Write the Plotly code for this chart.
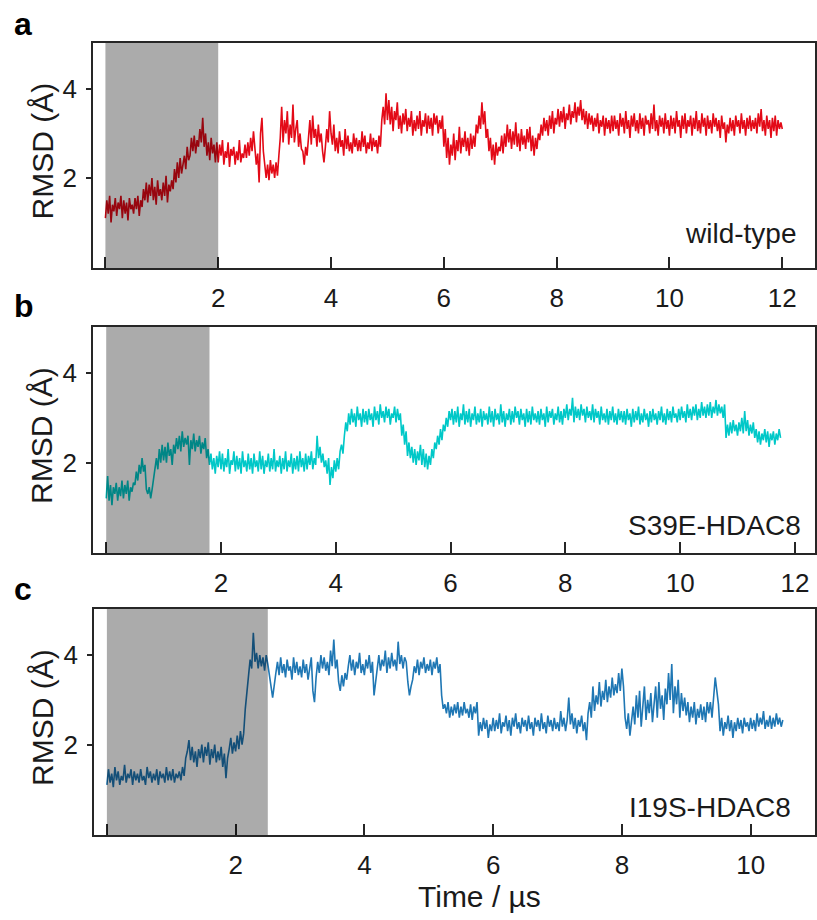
import numpy as np
import plotly.graph_objects as go

# ---------------- data (RMSD in Å, sampled every 0.025 µs) ----------------
dt = 0.025

rmsd_wt = [
    1.1, 1.5, 1.2, 1.6, 1.0, 1.4, 1.25, 1.55, 1.15, 1.45, 1.3, 1.6, 1.1, 1.5, 1.2, 1.45, 1.05, 1.55, 1.3, 1.4,
    1.2, 1.55, 1.3, 1.6, 1.15, 1.5, 1.35, 1.75, 1.5, 1.9, 1.45, 1.85, 1.6, 2.0, 1.5, 1.8, 1.4, 1.95, 1.6, 1.75,
    1.5, 1.9, 1.6, 2.05, 1.45, 1.85, 1.7, 1.95, 1.75, 2.2, 1.9, 2.35, 2.0, 2.45, 2.1, 2.3, 2.5, 2.2, 2.7, 2.4,
    2.5, 2.9, 2.6, 2.95, 2.55, 2.85, 2.7, 3.1, 2.8, 3.35, 2.7, 3.0, 2.5, 2.8, 2.4, 2.9, 2.55, 2.75, 2.35, 2.8,
    2.35, 2.75, 2.5, 2.85, 2.3, 2.6, 2.45, 2.8, 2.25, 2.65, 2.5, 2.7, 2.3, 2.6, 2.4, 2.85, 2.35, 2.55, 2.45, 2.75,
    2.45, 2.8, 2.5, 2.9, 2.6, 3.05, 2.7, 2.3, 2.55, 1.9, 3.0, 3.35, 2.6, 2.2, 2.0, 2.3, 1.95, 2.4, 2.1, 2.3,
    2.0, 2.35, 2.05, 2.5, 2.9, 3.6, 2.8, 3.3, 3.0, 3.5, 2.75, 3.2, 2.9, 3.65, 2.8, 3.1, 3.3, 2.7, 3.0, 2.65,
    2.6, 2.3, 2.7, 2.5, 3.0, 3.3, 2.75, 3.4, 2.9, 3.1, 2.7, 3.2, 2.8, 3.0, 2.6, 2.35, 2.7, 3.1, 2.8, 3.5,
    3.0, 2.75, 3.2, 2.6, 2.9, 2.55, 3.05, 2.7, 2.85, 2.5, 3.1, 2.65, 2.95, 2.6, 2.8, 2.55, 3.0, 2.7, 2.9, 2.6,
    2.85, 2.6, 3.05, 2.7, 2.95, 2.55, 2.8, 2.65, 3.0, 2.6, 2.9, 2.7, 2.85, 2.55, 2.95, 2.7, 3.3, 3.6, 3.2, 3.9,
    3.3, 3.75, 3.2, 3.6, 3.05, 3.5, 3.3, 3.7, 3.1, 3.4, 3.0, 3.45, 3.2, 3.55, 3.05, 3.35, 3.15, 3.5, 2.95, 3.3,
    3.05, 3.4, 3.1, 3.5, 2.95, 3.3, 3.15, 3.45, 3.0, 3.4, 3.1, 3.35, 2.95, 3.45, 3.2, 3.4, 3.0, 3.3, 3.1, 3.4,
    2.7, 3.1, 2.45, 2.9, 2.3, 2.75, 2.5, 3.0, 2.4, 2.85, 2.6, 3.15, 2.55, 2.9, 2.7, 3.05, 2.6, 2.9, 2.5, 3.0,
    2.65, 2.95, 2.7, 3.2, 3.0, 3.4, 3.1, 3.7, 3.2, 3.5, 2.9, 3.1, 2.6, 2.9, 2.4, 2.75, 2.3, 2.8, 2.5, 2.7,
    2.6, 2.95, 2.55, 3.0, 2.7, 3.2, 2.8, 3.1, 2.65, 3.05, 2.75, 3.25, 2.7, 3.0, 2.6, 3.1, 2.75, 2.95, 2.65, 3.1,
    2.8, 3.15, 2.6, 2.95, 2.5, 2.9, 2.65, 3.0, 2.85, 3.2, 2.95, 3.35, 3.05, 3.3, 2.95, 3.4, 3.1, 3.5, 3.0, 3.35,
    3.2, 3.55, 3.15, 3.5, 3.25, 3.6, 3.1, 3.45, 3.3, 3.65, 3.2, 3.5, 3.35, 3.7, 3.25, 3.6, 3.4, 3.75, 3.3, 3.55,
    3.2, 3.5, 3.1, 3.45, 3.2, 3.4, 3.05, 3.35, 3.15, 3.45, 3.0, 3.3, 3.15, 3.4, 2.95, 3.35, 3.1, 3.3, 3.0, 3.4,
    3.05, 3.4, 3.1, 3.3, 2.95, 3.45, 3.15, 3.35, 3.0, 3.5, 3.1, 3.3, 2.9, 3.4, 3.15, 3.45, 3.05, 3.3, 3.0, 3.45,
    3.1, 3.35, 2.95, 3.4, 3.2, 3.3, 3.0, 3.45, 3.1, 3.65, 3.05, 3.3, 2.95, 3.4, 3.15, 3.35, 3.0, 3.45, 3.1, 3.3,
    2.95, 3.4, 3.1, 3.35, 3.0, 3.5, 3.15, 3.3, 2.9, 3.4, 3.1, 3.45, 3.0, 3.3, 3.15, 3.4, 2.95, 3.35, 3.1, 3.5,
    3.05, 3.3, 3.0, 3.45, 3.15, 3.35, 2.95, 3.4, 3.1, 3.3, 3.0, 3.45, 3.15, 3.35, 3.05, 3.3, 2.9, 3.4, 3.1, 3.25,
    2.8, 3.2, 3.0, 3.35, 3.05, 3.3, 2.95, 3.4, 3.15, 3.3, 3.0, 3.45, 3.1, 3.3, 2.95, 3.35, 3.1, 3.4, 3.05, 3.3,
    3.1, 3.35, 3.0, 3.45, 3.15, 3.55, 3.05, 3.3, 2.95, 3.4, 3.1, 3.3, 2.9, 3.35, 3.05, 3.4, 2.95, 3.3, 3.1, 3.25,
    3.1,
]

rmsd_s39e = [
    1.2, 1.7, 1.15, 1.5, 1.05, 1.45, 1.3, 1.55, 1.15, 1.45, 1.25, 1.6, 1.2, 1.5, 1.3, 1.6, 1.15, 1.45, 1.35, 1.55,
    1.5, 1.8, 1.6, 1.95, 1.75, 2.1, 1.8, 1.95, 1.4, 1.3, 1.45, 1.2, 1.4, 1.6, 1.9, 2.1, 1.85, 2.3, 2.0, 2.4,
    2.05, 2.35, 2.0, 2.45, 2.15, 2.3, 1.95, 2.4, 2.2, 2.55, 2.3, 2.6, 2.25, 2.7, 2.35, 2.55, 2.4, 2.6, 1.95, 2.5,
    2.3, 2.65, 2.25, 2.5, 2.35, 2.6, 2.2, 2.45, 2.3, 2.55, 2.1, 2.3, 1.95, 2.2, 1.85, 2.1, 1.75, 2.15, 1.9, 2.25,
    1.85, 2.2, 1.8, 2.1, 1.9, 2.3, 1.75, 2.05, 1.95, 2.25, 1.8, 2.15, 1.85, 2.1, 1.75, 2.25, 1.9, 2.05, 1.8, 2.2,
    1.85, 2.1, 1.75, 2.2, 1.9, 2.05, 1.8, 2.25, 1.85, 2.15, 1.75, 2.05, 1.9, 2.2, 1.8, 2.1, 1.85, 2.3, 1.8, 2.05,
    1.9, 2.15, 1.75, 2.1, 1.85, 2.25, 1.8, 2.05, 1.9, 2.2, 1.75, 2.1, 1.85, 2.15, 1.8, 2.25, 1.9, 2.1, 1.8, 2.2,
    1.85, 2.15, 1.95, 2.25, 1.85, 2.1, 1.95, 2.6, 2.1, 2.35, 2.0, 2.2, 1.9, 2.05, 1.75, 2.1, 1.5, 1.9, 1.65, 2.05,
    1.8, 2.1, 1.85, 2.25, 2.4, 2.2, 2.6, 2.9, 2.7, 3.1, 2.85, 3.2, 2.9, 3.1, 2.8, 3.25, 2.95, 3.1, 2.8, 3.2,
    2.9, 3.15, 2.85, 3.2, 2.95, 3.1, 2.8, 3.25, 2.95, 3.15, 2.85, 3.3, 3.0, 3.15, 2.9, 3.25, 3.0, 3.2, 2.85, 3.1,
    3.0, 3.25, 2.9, 3.2, 2.95, 3.1, 2.6, 2.85, 2.4, 2.7, 2.15, 2.45, 2.1, 2.35, 2.0, 2.3, 1.95, 2.25, 2.05, 2.4,
    1.95, 2.3, 1.9, 2.2, 1.85, 2.15, 1.95, 2.3, 2.1, 2.45, 2.3, 2.6, 2.4, 2.75, 2.5, 2.85, 2.7, 3.0, 2.8, 3.15,
    2.95, 3.2, 2.85, 3.15, 2.9, 3.25, 2.8, 3.1, 2.95, 3.3, 2.85, 3.15, 2.9, 3.2, 2.8, 3.1, 2.95, 3.25, 2.85, 3.1,
    2.9, 3.2, 2.8, 3.15, 2.95, 3.1, 2.85, 3.25, 2.9, 3.15, 2.8, 3.2, 2.95, 3.1, 2.85, 3.3, 2.9, 3.15, 2.8, 3.1,
    2.95, 3.2, 2.85, 3.15, 2.9, 3.25, 3.0, 3.15, 2.85, 3.2, 2.95, 3.1, 2.8, 3.2, 2.9, 3.15, 2.85, 3.25, 2.95, 3.1,
    2.9, 3.15, 2.85, 3.2, 2.95, 3.1, 2.8, 3.25, 2.9, 3.15, 3.0, 3.2, 2.85, 3.1, 2.95, 3.25, 2.9, 3.15, 2.85, 3.2,
    3.0, 3.3, 2.95, 3.2, 3.05, 3.45, 2.9, 3.25, 3.0, 3.2, 2.95, 3.3, 3.05, 3.2, 2.9, 3.25, 3.0, 3.15, 2.95, 3.3,
    2.9, 3.2, 3.0, 3.15, 2.85, 3.25, 2.95, 3.1, 2.9, 3.2, 2.85, 3.15, 2.95, 3.25, 2.9, 3.1, 2.85, 3.2, 2.95, 3.15,
    2.9, 3.15, 2.85, 3.2, 2.95, 3.1, 2.8, 3.2, 2.9, 3.15, 2.95, 3.25, 2.85, 3.1, 2.9, 3.2, 2.95, 3.1, 2.8, 3.15,
    2.9, 3.2, 2.95, 3.1, 2.85, 3.15, 2.95, 3.25, 2.9, 3.1, 2.85, 3.2, 2.95, 3.15, 2.9, 3.25, 3.0, 3.1, 2.9, 3.2,
    2.95, 3.25, 3.0, 3.15, 2.9, 3.3, 3.0, 3.2, 2.95, 3.25, 3.05, 3.3, 2.95, 3.2, 3.0, 3.35, 3.05, 3.25, 3.0, 3.3,
    3.05, 3.35, 3.0, 3.25, 3.1, 3.4, 3.05, 3.3, 3.1, 3.25, 3.0, 3.3, 2.55, 2.85, 2.6, 2.9, 2.65, 2.95, 2.7, 2.85,
    2.6, 2.9, 2.7, 3.0, 2.65, 3.15, 2.7, 2.95, 2.6, 2.85, 2.65, 2.9, 2.55, 2.75, 2.45, 2.7, 2.4, 2.65, 2.5, 2.75,
    2.45, 2.7, 2.35, 2.65, 2.5, 2.7, 2.4, 2.65, 2.5, 2.75, 2.55,
]

rmsd_i19s = [
    1.1, 1.45, 1.15, 1.35, 1.05, 1.5, 1.2, 1.4, 1.1, 1.3, 1.2, 1.55, 1.15, 1.35, 1.25, 1.45, 1.1, 1.4, 1.2, 1.35,
    1.15, 1.45, 1.2, 1.3, 1.1, 1.5, 1.25, 1.4, 1.15, 1.35, 1.2, 1.45, 1.1, 1.4, 1.25, 1.35, 1.15, 1.5, 1.2, 1.4,
    1.2, 1.45, 1.15, 1.35, 1.25, 1.4, 1.2, 1.5, 1.3, 1.7, 1.85, 2.1, 1.65, 1.95, 1.6, 1.85, 1.5, 1.9, 1.7, 2.0,
    1.6, 1.95, 1.75, 2.05, 1.55, 1.9, 1.7, 2.0, 1.6, 1.85, 1.65, 1.95, 1.5, 1.8, 1.25, 1.7, 1.9, 2.15, 1.8, 2.05,
    1.85, 2.2, 1.9, 2.3, 2.0, 2.25, 2.8, 3.2, 3.6, 3.9, 3.7, 4.5, 3.85, 4.05, 3.7, 4.0, 3.75, 3.95, 3.65, 4.0,
    3.8, 3.5, 3.3, 3.05, 3.4, 3.6, 3.85, 3.55, 3.95, 3.6, 3.8, 3.5, 3.9, 3.65, 3.75, 3.45, 3.95, 3.6, 3.85, 3.55,
    3.75, 3.5, 3.9, 3.6, 3.8, 3.45, 3.7, 3.95, 3.2, 2.95, 3.5, 3.85, 3.6, 4.0, 3.7, 3.95, 3.65, 3.85, 3.55, 4.1,
    3.75, 4.35, 3.7, 3.9, 3.4, 3.2, 3.55, 3.3, 3.6, 3.45, 3.75, 4.0, 3.65, 3.9, 3.55, 3.85, 3.7, 4.05, 3.6, 3.8,
    3.55, 3.9, 3.7, 4.0, 3.6, 3.85, 3.1, 3.35, 3.7, 4.0, 3.65, 3.9, 3.75, 4.1, 3.6, 3.95, 3.7, 4.05, 3.75, 3.9,
    3.65, 4.3, 3.8, 4.0, 3.7, 3.95, 3.85, 3.4, 3.1, 3.3, 3.45, 3.75, 3.6, 3.9, 3.55, 3.85, 3.7, 3.95, 3.6, 3.8,
    3.65, 3.9, 3.55, 3.85, 3.7, 3.95, 3.6, 3.8, 3.1, 2.8, 2.9, 2.7, 2.95, 2.6, 2.85, 2.65, 2.9, 2.7, 2.95, 2.6,
    2.85, 2.65, 2.95, 2.7, 2.8, 2.6, 2.9, 2.55, 2.85, 2.7, 2.95, 2.2, 2.5, 2.3, 2.6, 2.35, 2.55, 2.15, 2.45, 2.3,
    2.6, 2.3, 2.55, 2.35, 2.7, 2.25, 2.5, 2.4, 2.65, 2.3, 2.55, 2.2, 2.6, 2.4, 2.7, 2.35, 2.5, 2.25, 2.6, 2.4,
    2.55, 2.3, 2.65, 2.35, 2.5, 2.2, 2.6, 2.4, 2.55, 2.3, 2.7, 2.35, 2.5, 2.25, 2.65, 2.4, 2.55, 2.3, 2.6, 2.35,
    2.5, 2.3, 2.75, 2.4, 2.6, 2.3, 2.55, 3.05, 2.45, 2.7, 2.35, 2.6, 2.25, 2.55, 2.4, 2.65, 2.3, 2.5, 2.1, 2.7,
    2.95, 2.6, 3.3, 2.75, 3.1, 2.9, 3.4, 2.85, 3.2, 3.0, 3.45, 2.95, 3.3, 3.05, 3.5, 3.1, 3.35, 3.15, 3.6, 3.2,
    3.7, 3.3, 2.6, 2.35, 2.7, 2.2, 2.6, 2.85, 2.45, 3.1, 2.6, 3.2, 2.4, 2.9, 3.3, 2.55, 3.0, 2.7, 3.15, 2.5,
    2.9, 3.3, 2.6, 3.4, 2.8, 3.1, 2.55, 3.25, 2.9, 3.6, 3.0, 3.8, 2.7, 3.3, 2.9, 3.45, 2.6, 3.15, 2.75, 3.05,
    2.65, 2.95, 2.5, 2.85, 2.6, 2.95, 2.45, 2.8, 2.6, 2.9, 2.55, 2.85, 2.5, 2.95, 2.7, 2.95, 2.6, 3.1, 3.5, 3.2,
    2.9, 2.3, 2.6, 2.2, 2.5, 2.35, 2.65, 2.3, 2.55, 2.15, 2.5, 2.3, 2.6, 2.35, 2.55, 2.25, 2.6, 2.4, 2.5, 2.3,
    2.6, 2.35, 2.55, 2.3, 2.7, 2.4, 2.6, 2.45, 2.75, 2.35, 2.55, 2.4, 2.65, 2.35, 2.6, 2.4, 2.7, 2.45, 2.6, 2.4,
    2.55,
]

series_values = [rmsd_wt, rmsd_s39e, rmsd_i19s]
series_names = ["wild-type", "S39E-HDAC8", "I19S-HDAC8"]
panel_letters = ["a", "b", "c"]
series_colors = ["#e30a17", "#00c8c8", "#1f77b4"]
shade_end = [2.0, 1.8, 2.5]                      # µs, end of shaded equilibration window
x_ranges = [[-0.22, 12.58], [-0.23, 12.35], [-0.20, 11.0]]
x_tickvals = [[0, 2, 4, 6, 8, 10, 12], [0, 2, 4, 6, 8, 10, 12], [0, 2, 4, 6, 8, 10]]
x_ticktext = [["", "2", "4", "6", "8", "10", "12"], ["", "2", "4", "6", "8", "10", "12"],
              ["", "2", "4", "6", "8", "10"]]
y_tickvals = [2, 4]
y_ticktext = ["2", "4"]
y_range = [-0.02, 5.03]

# ---------------- layout geometry (pixels of 817x920 figure) ----------------
W, H = 817, 920
px_left = [93, 93, 94]
px_right = [815, 815, 815]
px_top = [43, 327, 609]
px_bot = [268, 553, 835]

FONT = "Liberation Sans, Arial, Helvetica, sans-serif"
INK = "#1a1a1a"
FRAME = "#262626"

fig = go.Figure()
layout = dict(
    width=W, height=H,
    margin=dict(l=0, r=0, t=0, b=0),
    paper_bgcolor="white", plot_bgcolor="white",
    showlegend=False,
    font=dict(family=FONT, color=INK),
)
shapes = []
annotations = []

for i in range(3):
    sfx = "" if i == 0 else str(i + 1)
    vals = series_values[i]
    t = np.arange(len(vals)) * dt
    fig.add_trace(go.Scatter(
        x=t, y=vals, mode="lines",
        line=dict(color=series_colors[i], width=1.6),
        xaxis="x" + sfx, yaxis="y" + sfx, hoverinfo="skip",
    ))
    xd = [px_left[i] / W, px_right[i] / W]
    yd = [1 - px_bot[i] / H, 1 - px_top[i] / H]
    layout["xaxis" + sfx] = dict(
        domain=xd, anchor="y" + sfx, range=x_ranges[i],
        showline=True, mirror=True, linecolor=FRAME, linewidth=1.6,
        ticks="inside", ticklen=11, tickwidth=1.5, tickcolor=FRAME,
        tickvals=x_tickvals[i], ticktext=x_ticktext[i],
        tickfont=dict(size=26, family=FONT, color=INK),
        ticklabelstandoff=6,
        showgrid=False, zeroline=False, fixedrange=True,
    )
    layout["yaxis" + sfx] = dict(
        domain=yd, anchor="x" + sfx, range=y_range,
        showline=True, mirror=True, linecolor=FRAME, linewidth=1.6,
        ticks="outside", ticklen=5, tickwidth=1.5, tickcolor=FRAME,
        tickvals=y_tickvals, ticktext=y_ticktext,
        tickfont=dict(size=26, family=FONT, color=INK),
        ticklabelstandoff=4,
        showgrid=False, zeroline=False, fixedrange=True,
    )
    # shaded equilibration window (dark overlay drawn above the trace)
    shapes.append(dict(
        type="rect", xref="x" + sfx, yref="y" + sfx + " domain",
        x0=0, x1=shade_end[i], y0=0, y1=1,
        fillcolor="black", opacity=0.33, line=dict(width=0), layer="above",
    ))
    # panel letter
    letter_y = [24, 306, 589][i]
    annotations.append(dict(
        text="<b>%s</b>" % panel_letters[i], x=12 / W, y=1 - letter_y / H,
        xref="paper", yref="paper", xanchor="left", yanchor="middle",
        showarrow=False, font=dict(size=32, family=FONT, color="black"),
    ))
    # series label
    lab_right = [798, 803, 793][i]
    lab_y = [234, 525, 807][i]
    annotations.append(dict(
        text=series_names[i], x=lab_right / W, y=1 - lab_y / H,
        xref="paper", yref="paper", xanchor="right", yanchor="middle",
        showarrow=False, font=dict(size=28, family=FONT, color=INK),
    ))
    # y title
    yc = (px_top[i] + px_bot[i]) / 2 - 4
    annotations.append(dict(
        text="RMSD (Å)", x=42 / W, y=1 - yc / H, textangle=-90,
        xref="paper", yref="paper", xanchor="center", yanchor="middle",
        showarrow=False, font=dict(size=30, family=FONT, color=INK),
    ))

annotations.append(dict(
    text="Time / µs", x=479 / W, y=1 - 896 / H,
    xref="paper", yref="paper", xanchor="center", yanchor="middle",
    showarrow=False, font=dict(size=30, family=FONT, color=INK),
))

layout["shapes"] = shapes
layout["annotations"] = annotations
fig.update_layout(**layout)
fig.write_html("out.html", config={"displayModeBar": False})
